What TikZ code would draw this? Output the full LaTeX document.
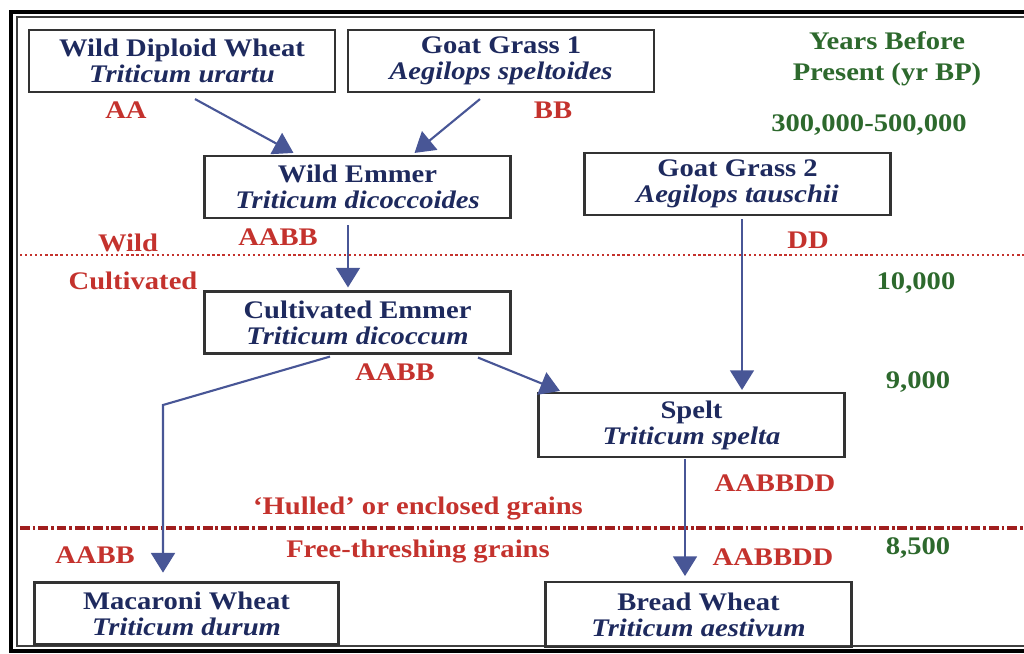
\documentclass[tikz,border=0pt]{standalone}
\usepackage{fontspec}
\setmainfont[FakeStretch=1.13]{Liberation Serif}
\usetikzlibrary{arrows.meta}
\definecolor{navy}{RGB}{30,42,94}
\definecolor{gred}{RGB}{196,50,45}
\definecolor{dred}{RGB}{160,30,30}
\definecolor{ygreen}{RGB}{45,105,45}
\definecolor{arrblue}{RGB}{72,86,150}

\begin{document}
\begin{tikzpicture}[x=0.025cm,y=-0.025cm,
  box/.style={draw=black!80,line width=1.5pt,minimum width=7.65cm,minimum height=1.55cm,
    inner sep=0pt,align=center,text=navy,font=\fontsize{18}{18.5}\selectfont\bfseries},
  arr/.style={draw=arrblue,line width=1.5pt,-{Triangle[length=14pt,width=17pt]}},
  gen/.style={text=gred,font=\fontsize{18}{18.5}\selectfont\bfseries},
  yr/.style={text=ygreen,align=center,font=\fontsize{18}{22}\selectfont\bfseries}]
   \useasboundingbox (0,0) rectangle (1024,653);
   % frame
   \draw[line width=2.4pt] (11,12) rectangle (1040,651);
   \draw[line width=1.2pt,black!75] (17,17) rectangle (1040,646);
   % wild / cultivated and hulled / free-threshing lines
   \draw[gred,line width=1.6pt,dotted] (20,255) -- (1024,255);
   \draw[dred,line width=2.2pt,dash pattern=on 7pt off 2pt on 2pt off 2pt] (20,528) -- (1024,528);
   % boxes
   \node[box] (wdw) at (182,61) {Wild Diploid Wheat\\\itshape Triticum urartu};
   \node[box] (gg1) at (501,61) {Goat Grass 1\\\itshape Aegilops speltoides};
   \node[box] (wem) at (357.5,187) {Wild Emmer\\\itshape Triticum dicoccoides};
   \node[box] (gg2) at (737.5,184) {Goat Grass 2\\\itshape Aegilops tauschii};
   \node[box] (cem) at (357.5,322.5) {Cultivated Emmer\\\itshape Triticum dicoccum};
   \node[box,minimum height=1.6cm] (spl) at (691.5,425) {Spelt\\\itshape Triticum spelta};
   \node[box,minimum width=7.6cm] (mac) at (186.5,613.5) {Macaroni Wheat\\\itshape Triticum durum};
   \node[box,minimum height=1.62cm] (brd) at (698.5,614.5) {Bread Wheat\\\itshape Triticum aestivum};
   % arrows
   \draw[arr] ([shift={(13,6)}]wdw.south) -- ([shift={(-64,-2)}]wem.north);
   \draw[arr] ([shift={(-21,6)}]gg1.south) -- ([shift={(57,-2)}]wem.north);
   \draw[arr] ([shift={(-9.5,6)}]wem.south) -- ([shift={(-9.5,-3)}]cem.north);
   \draw[arr] ([shift={(4.5,3)}]gg2.south) -- ([shift={(50.5,-2)}]spl.north);
   \draw[arr] ([shift={(120.5,3)}]cem.south) -- ([shift={(-131.5,-1)}]spl.north);
   \coordinate (bend) at (163,405);
   \draw[arr] ([shift={(-27.5,2)}]cem.south) -- (bend) -- ([yshift=0.22cm]bend |- mac.north);
   \draw[arr] ([shift={(-6.5,1)}]spl.south) -- ([shift={(-13.5,-5)}]brd.north);
   % genomes
   \node[gen] (aa) at (126,110) {AA};
   \node[gen] (bb) at (553,110) {BB};
   \node[gen] (aabb1) at (278,237) {AABB};
   \node[gen] (dd) at (808,240) {DD};
   \node[gen] (aabb2) at (395,372) {AABB};
   \node[gen] (aabbdd1) at (775,483) {AABBDD};
   \node[gen] (aabb3) at (95,555) {AABB};
   \node[gen] (aabbdd2) at (773,557) {AABBDD};
   \node[gen] (wild) at (128,243) {Wild};
   \node[gen] (cult) at (133,281) {Cultivated};
   \node[gen] (hull) at (418,508) {`Hulled' or enclosed grains};
   \node[gen] (free) at (418,551) {Free-threshing grains};
   % years before present
   \node[yr] (ybp) at (887,59) {Years Before\\Present (yr BP)};
   \node[yr] (y1) at (869,125) {300,000-500,000};
   \node[yr] (y2) at (916,283) {10,000};
   \node[yr] (y3) at (918,382) {9,000};
   \node[yr] (y4) at (918,548) {8,500};
\end{tikzpicture}
\end{document}
